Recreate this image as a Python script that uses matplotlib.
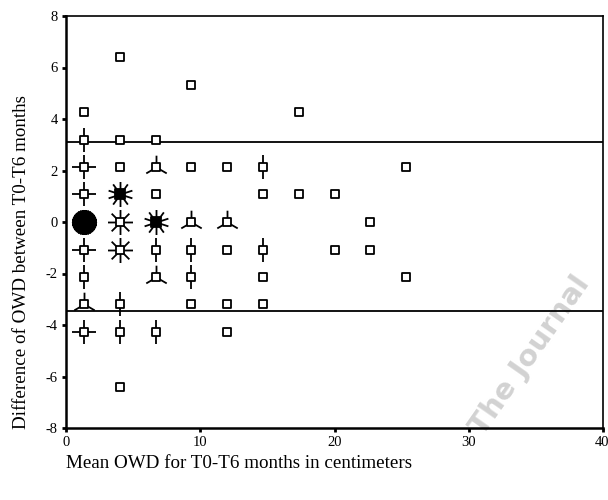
import matplotlib
matplotlib.use("Agg")
import matplotlib.pyplot as plt
import matplotlib.transforms as mtransforms
import numpy as np
from matplotlib.path import Path
from matplotlib.markers import MarkerStyle

# ---- data ----
mean_owd = [4.0, 9.33, 1.33, 17.33,
            1.33, 4.0, 6.67,
            1.33, 4.0, 6.67, 9.33, 12.0, 14.67, 25.33,
            1.33, 4.0, 6.67, 14.67, 17.33, 20.0,
            1.33, 4.0, 6.67, 9.33, 12.0, 22.67,
            1.33, 4.0, 6.67, 9.33, 12.0, 14.67, 20.0, 22.67,
            1.33, 6.67, 9.33, 14.67, 25.33,
            1.33, 4.0, 9.33, 12.0, 14.67,
            1.33, 4.0, 6.67, 12.0,
            4.0]
diff_owd = [6.4, 5.33, 4.27, 4.27,
            3.2, 3.2, 3.2,
            2.13, 2.13, 2.13, 2.13, 2.13, 2.13, 2.13,
            1.07, 1.07, 1.07, 1.07, 1.07, 1.07,
            0, 0, 0, 0, 0, 0,
            -1.07, -1.07, -1.07, -1.07, -1.07, -1.07, -1.07, -1.07,
            -2.13, -2.13, -2.13, -2.13, -2.13,
            -3.2, -3.2, -3.2, -3.2, -3.2,
            -4.27, -4.27, -4.27, -4.27,
            -6.4]
counts = [1, 1, 1, 1,
          2, 1, 1,
          4, 1, 3, 1, 1, 2, 1,
          4, 10, 1, 1, 1, 1,
          30, 8, 10, 3, 3, 1,
          4, 8, 2, 2, 1, 2, 1, 1,
          2, 3, 2, 1, 1,
          3, 2, 1, 1, 1,
          4, 2, 2, 1,
          1]
upper_loa = 3.09
lower_loa = -3.44
xticks = [0, 10, 20, 30, 40]
yticks = [-8, -6, -4, -2, 0, 2, 4, 6, 8]

plt.rcParams['font.family'] = ['Liberation Serif', 'DejaVu Serif']
plt.rcParams['axes.unicode_minus'] = False

fig = plt.figure(figsize=(6.08, 5.0), dpi=100)
ax = fig.add_axes([66/608, 1-428/500, (603-66)/608, (428-16)/500])
ax.patch.set_alpha(0)


def petal_path(n):
    verts, codes = [], []
    for k in range(n):
        a = np.pi/2 + 2*np.pi*k/n
        verts += [(0, 0), (np.cos(a), np.sin(a))]
        codes += [Path.MOVETO, Path.LINETO]
    return Path(verts, codes)


sq = MarkerStyle('s', joinstyle='round')
for x, y, n in zip(mean_owd, diff_owd, counts):
    if n >= 20:
        ax.plot(x, y, marker='o', ms=15, color='k', mec='k', zorder=3)
        ax.plot(x, y, marker=petal_path(n), ms=18, mew=2.4, color='k',
                linestyle='none', zorder=3)
        continue
    if n >= 2:
        ax.plot(x, y, marker=petal_path(n), ms=17 if n < 8 else 18,
                mew=1.3, color='k', linestyle='none', zorder=3)
    filled = n >= 9
    ax.plot(x, y, marker=sq, ms=6.4 if not filled else 7.4, mew=1.3,
            mfc='k' if filled else 'white', mec='k', zorder=4,
            linestyle='none')

ax.axhline(upper_loa, color='k', lw=1.3, zorder=2)
ax.axhline(lower_loa, color='k', lw=1.3, zorder=2)

ax.set_xlim(0, 40)
ax.set_ylim(-8, 8)
ax.set_xticks(xticks)
ax.set_yticks(yticks)
ax.tick_params(direction='out', length=3, width=2, labelsize=10.5, pad=3)
for s in ax.spines.values():
    s.set_linewidth(1.2)
ax.spines['left'].set_linewidth(1.8)
ax.spines['bottom'].set_linewidth(1.8)

# keep the last x tick label inside the picture
last = ax.get_xticklabels()[-1]
last.set_horizontalalignment('right')
last.set_transform(last.get_transform() +
                   mtransforms.ScaledTranslation(6/100, 0, fig.dpi_scale_trans))

fig.text(22/608, 1-262/500, 'Difference of OWD between T0-T6 months',
         rotation=90, ha='center', va='center', fontsize=13.7)
fig.text(66/608, 1-463/500, 'Mean OWD for T0-T6 months in centimeters',
         ha='left', va='center', fontsize=13.7)

fig.text(530/608, 1-355/500, 'The Journal', rotation=55, ha='center',
         va='center', fontsize=21, color='#d2d2d2', fontweight='bold',
         family='DejaVu Sans', zorder=-1)

fig.savefig('out.png', dpi=100)
